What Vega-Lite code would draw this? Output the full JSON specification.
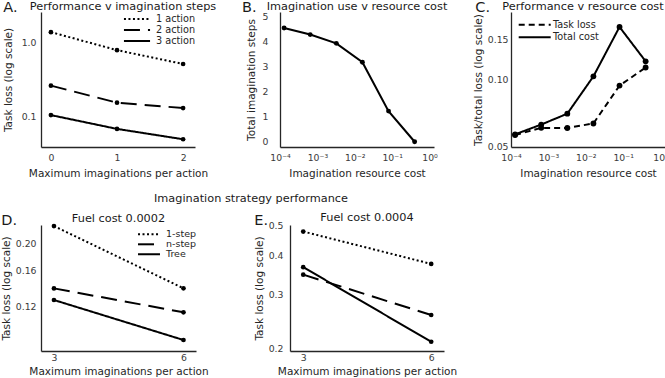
{
  "$schema": "https://vega.github.io/schema/vega-lite/v6.json",
  "padding": {"left": 1, "top": 0, "right": 0, "bottom": 0},
  "config": {
    "font": "DejaVu Sans",
    "view": {"stroke": null},
    "axis": {"grid": false, "ticks": false, "domainColor": "#262626", "domainWidth": 1.3, "labelFont": "DejaVu Sans", "labelFontSize": 9.3, "labelColor": "#3a3a3a", "titleFont": "DejaVu Sans", "titleFontSize": 10.5, "titleFontWeight": "normal", "titleColor": "#262626", "labelPadding": 5, "labelFlush": false},
    "title": {"font": "DejaVu Sans", "fontSize": 11.3, "fontWeight": "normal", "color": "#1a1a1a"},
    "legend": {"title": null, "orient": "none", "padding": 0, "rowPadding": 0, "labelFont": "DejaVu Sans", "labelFontSize": 9.7, "labelColor": "#262626", "symbolStrokeColor": "black", "symbolStrokeWidth": 2}
  },
  "spacing": 14,
  "resolve": {"scale": {"strokeDash": "independent"}, "legend": {"strokeDash": "independent"}},
  "vconcat": [
    {
      "spacing": 25,
      "resolve": {"scale": {"strokeDash": "independent"}, "legend": {"strokeDash": "independent"}},
      "hconcat": [
        {
          "title": {"text": "A.", "anchor": "start", "fontSize": 14.5, "offset": -15},
          "resolve": {"scale": {"strokeDash": "independent"}, "legend": {"strokeDash": "independent"}},
          "vconcat": [
            {
              "width": 154, "height": 135,
              "title": {"text": "Performance v imagination steps", "anchor": "middle", "frame": "group", "offset": 0, "dx": 5},
              "data": {"values": [
                {"steps": 0, "loss": 1.40, "series": "1 action"},
                {"steps": 1, "loss": 0.80, "series": "1 action"},
                {"steps": 2, "loss": 0.52, "series": "1 action"},
                {"steps": 0, "loss": 0.265, "series": "2 action"},
                {"steps": 1, "loss": 0.156, "series": "2 action"},
                {"steps": 2, "loss": 0.132, "series": "2 action"},
                {"steps": 0, "loss": 0.106, "series": "3 action"},
                {"steps": 1, "loss": 0.069, "series": "3 action"},
                {"steps": 2, "loss": 0.050, "series": "3 action"}
              ]},
              "encoding": {
                "x": {"field": "steps", "type": "quantitative", "scale": {"domain": [-0.15, 2.18], "nice": false, "zero": false}, "axis": {"values": [0, 1, 2], "title": "Maximum imaginations per action", "labelPadding": 6, "titlePadding": 6}},
                "y": {"field": "loss", "type": "quantitative", "scale": {"type": "log", "domain": [0.0393, 2.62], "nice": false}, "axis": {"values": [0.1, 1], "format": ".1f", "title": "Task loss (log scale)", "titlePadding": 8}}
              },
              "layer": [
                {"mark": {"type": "line", "color": "black", "strokeWidth": 2},
                 "encoding": {"strokeDash": {"field": "series", "type": "nominal", "scale": {"domain": ["1 action", "2 action", "3 action"], "range": [[2, 2.5], [16, 8], [1, 0]]},
                   "legend": {"legendX": 90.5, "legendY": 1.5, "symbolType": "M-2.9,0H2.9", "symbolSize": 81, "labelOffset": 13.5}}}},
                {"mark": {"type": "point", "filled": true, "color": "black", "size": 22, "opacity": 1}}
              ]
            }
          ]
        },
        {
          "title": {"text": "B.", "anchor": "start", "fontSize": 14.5, "offset": -15, "dx": -4},
          "vconcat": [
            {
              "width": 154, "height": 135,
              "title": {"text": "Imagination use v resource cost", "anchor": "middle", "frame": "group", "offset": 0},
              "data": {"values": [
                {"cost": 0.000128, "steps": 4.53},
                {"cost": 0.00064, "steps": 4.27},
                {"cost": 0.0032, "steps": 3.92},
                {"cost": 0.016, "steps": 3.17},
                {"cost": 0.08, "steps": 1.22},
                {"cost": 0.4, "steps": 0.0}
              ]},
              "encoding": {
                "x": {"field": "cost", "type": "quantitative", "scale": {"type": "log", "domain": [0.0000995, 1.32], "nice": false}, "axis": {"values": [0.0001, 0.001, 0.01, 0.1, 1], "labelExpr": "datum.value < 0.0005 ? '10⁻⁴' : datum.value < 0.005 ? '10⁻³' : datum.value < 0.05 ? '10⁻²' : datum.value < 0.5 ? '10⁻¹' : '10⁰'", "title": "Imagination resource cost", "labelPadding": 6, "titlePadding": 6}},
                "y": {"field": "steps", "type": "quantitative", "scale": {"domain": [-0.21, 5.17], "nice": false, "zero": false}, "axis": {"values": [0, 1, 2, 3, 4, 5], "title": "Total imagination steps", "labelPadding": 12, "titlePadding": 6}}
              },
              "layer": [
                {"mark": {"type": "line", "color": "black", "strokeWidth": 2}, "encoding": {}},
                {"mark": {"type": "point", "filled": true, "color": "black", "size": 24, "opacity": 1}}
              ]
            }
          ]
        },
        {
          "title": {"text": "C.", "anchor": "start", "fontSize": 14.5, "offset": -15, "dx": 2},
          "resolve": {"scale": {"strokeDash": "independent"}, "legend": {"strokeDash": "independent"}},
          "vconcat": [
            {
              "width": 154, "height": 135,
              "title": {"text": "Performance v resource cost", "anchor": "middle", "frame": "group", "offset": 0, "dx": -5},
              "data": {"values": [
                {"cost": 0.000128, "loss": 0.0563, "series": "Task loss"},
                {"cost": 0.00064, "loss": 0.0606, "series": "Task loss"},
                {"cost": 0.0032, "loss": 0.0605, "series": "Task loss"},
                {"cost": 0.016, "loss": 0.0634, "series": "Task loss"},
                {"cost": 0.08, "loss": 0.0935, "series": "Task loss"},
                {"cost": 0.4, "loss": 0.1126, "series": "Task loss"},
                {"cost": 0.000128, "loss": 0.0567, "series": "Total cost"},
                {"cost": 0.00064, "loss": 0.0627, "series": "Total cost"},
                {"cost": 0.0032, "loss": 0.0701, "series": "Total cost"},
                {"cost": 0.016, "loss": 0.1028, "series": "Total cost"},
                {"cost": 0.08, "loss": 0.1707, "series": "Total cost"},
                {"cost": 0.4, "loss": 0.120, "series": "Total cost"}
              ]},
              "encoding": {
                "x": {"field": "cost", "type": "quantitative", "scale": {"type": "log", "domain": [0.0000995, 1.32], "nice": false}, "axis": {"values": [0.0001, 0.001, 0.01, 0.1, 1], "labelExpr": "datum.value < 0.0005 ? '10⁻⁴' : datum.value < 0.005 ? '10⁻³' : datum.value < 0.05 ? '10⁻²' : datum.value < 0.5 ? '10⁻¹' : '10⁰'", "title": "Imagination resource cost", "labelPadding": 6, "titlePadding": 6}},
                "y": {"field": "loss", "type": "quantitative", "scale": {"type": "log", "domain": [0.0498, 0.199], "nice": false}, "axis": {"values": [0.05, 0.10, 0.15], "format": ".2f", "title": "Task/total loss (log scale)", "labelPadding": 3, "titlePadding": 4}}
              },
              "layer": [
                {"mark": {"type": "line", "color": "black", "strokeWidth": 2},
                 "encoding": {"strokeDash": {"field": "series", "type": "nominal", "scale": {"domain": ["Task loss", "Total cost"], "range": [[6, 4], [1, 0]]},
                   "legend": {"legendX": 17.7, "legendY": 6.7, "symbolType": "M-3.2,0H3.2", "symbolSize": 100, "labelOffset": 12.3, "rowPadding": 1.6}}}},
                {"mark": {"type": "point", "filled": true, "color": "black", "size": 34, "opacity": 1}}
              ]
            }
          ]
        }
      ]
    },
    {
      "spacing": 45,
      "resolve": {"scale": {"strokeDash": "independent"}, "legend": {"strokeDash": "independent"}},
      "title": {"text": "Imagination strategy performance", "anchor": "middle", "dx": 22, "offset": 8},
      "hconcat": [
        {
          "title": {"text": "D.", "anchor": "start", "fontSize": 14.5, "offset": -16},
          "resolve": {"scale": {"strokeDash": "independent"}, "legend": {"strokeDash": "independent"}},
          "vconcat": [
            {
              "width": 155, "height": 126,
              "title": {"text": "Fuel cost 0.0002", "anchor": "middle", "frame": "group", "offset": -2},
              "data": {"values": [
                {"steps": 3, "loss": 0.230, "series": "1-step"},
                {"steps": 6, "loss": 0.1386, "series": "1-step"},
                {"steps": 3, "loss": 0.1385, "series": "n-step"},
                {"steps": 6, "loss": 0.114, "series": "n-step"},
                {"steps": 3, "loss": 0.126, "series": "Tree"},
                {"steps": 6, "loss": 0.091, "series": "Tree"}
              ]},
              "encoding": {
                "x": {"field": "steps", "type": "quantitative", "scale": {"domain": [2.7, 6.29], "nice": false, "zero": false}, "axis": {"values": [3, 6], "title": "Maximum imaginations per action", "labelPadding": 2, "titlePadding": 4}},
                "y": {"field": "loss", "type": "quantitative", "scale": {"type": "log", "domain": [0.0832, 0.232], "nice": false}, "axis": {"values": [0.12, 0.16, 0.20], "format": ".2f", "title": "Task loss (log scale)", "titlePadding": 4}}
              },
              "layer": [
                {"mark": {"type": "line", "color": "black", "strokeWidth": 2},
                 "encoding": {"strokeDash": {"field": "series", "type": "nominal", "scale": {"domain": ["1-step", "n-step", "Tree"], "range": [[2, 2.5], [16, 8], [1, 0]]},
                   "legend": {"legendX": 102.5, "legendY": 3.8, "symbolType": "M-2.44,0H2.44", "symbolSize": 81, "labelOffset": 11.5, "labelFontSize": 9.5}}}},
                {"mark": {"type": "point", "filled": true, "color": "black", "size": 22, "opacity": 1}}
              ]
            }
          ]
        },
        {
          "title": {"text": "E.", "anchor": "start", "fontSize": 14.5, "offset": -16},
          "resolve": {"scale": {"strokeDash": "independent"}, "legend": {"strokeDash": "independent"}},
          "vconcat": [
            {
              "width": 154, "height": 126,
              "title": {"text": "Fuel cost 0.0004", "anchor": "middle", "frame": "group", "offset": -2},
              "data": {"values": [
                {"steps": 3, "loss": 0.479, "series": "1-step"},
                {"steps": 6, "loss": 0.376, "series": "1-step"},
                {"steps": 3, "loss": 0.347, "series": "n-step"},
                {"steps": 6, "loss": 0.2566, "series": "n-step"},
                {"steps": 3, "loss": 0.367, "series": "Tree"},
                {"steps": 6, "loss": 0.210, "series": "Tree"}
              ]},
              "encoding": {
                "x": {"field": "steps", "type": "quantitative", "scale": {"domain": [2.69, 6.30], "nice": false, "zero": false}, "axis": {"values": [3, 6], "title": "Maximum imaginations per action", "labelPadding": 2, "titlePadding": 4}},
                "y": {"field": "loss", "type": "quantitative", "scale": {"type": "log", "domain": [0.196, 0.503], "nice": false}, "axis": {"values": [0.2, 0.3, 0.4, 0.5], "format": ".1f", "title": "Task loss (log scale)", "labelPadding": 7, "titlePadding": 4}}
              },
              "layer": [
                {"mark": {"type": "line", "color": "black", "strokeWidth": 2},
                 "encoding": {"strokeDash": {"field": "series", "type": "nominal", "scale": {"domain": ["1-step", "n-step", "Tree"], "range": [[2, 2.5], [16, 8], [1, 0]]}, "legend": null}}},
                {"mark": {"type": "point", "filled": true, "color": "black", "size": 22, "opacity": 1}}
              ]
            }
          ]
        }
      ]
    }
  ]
}
